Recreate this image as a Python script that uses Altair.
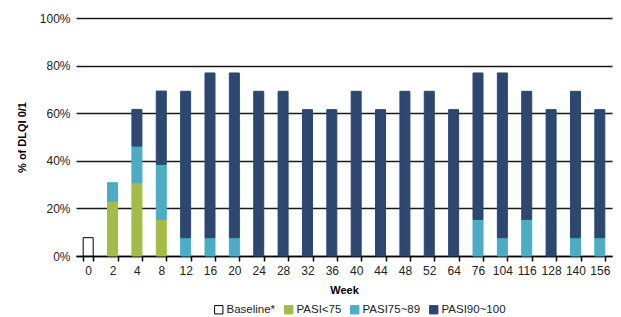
import altair as alt
import pandas as pd

weeks = ["0", "2", "4", "8", "12", "16", "20", "24", "28", "32", "36", "40",
         "44", "48", "52", "64", "76", "104", "116", "128", "140", "156"]
baseline = [7.7, 0, 0, 0, 0, 0, 0, 0, 0, 0, 0, 0, 0, 0, 0, 0, 0, 0, 0, 0, 0, 0]
pasi_lt75 = [0, 23.1, 30.8, 15.4, 0, 0, 0, 0, 0, 0, 0, 0, 0, 0, 0, 0, 0, 0, 0, 0, 0, 0]
pasi_75_89 = [0, 7.7, 15.4, 23.1, 7.7, 7.7, 7.7, 0, 0, 0, 0, 0, 0, 0, 0, 0, 15.4, 7.7, 15.4, 0, 7.7, 7.7]
pasi_90_100 = [0, 0, 15.4, 30.8, 61.5, 69.2, 69.2, 69.2, 69.2, 61.5, 61.5, 69.2,
               61.5, 69.2, 69.2, 61.5, 61.5, 69.2, 53.8, 61.5, 61.5, 53.8]

series = ["Baseline*", "PASI<75", "PASI75~89", "PASI90~100"]
fills = ["#ffffff", "#a2bd45", "#4bacc6", "#2c4770"]
strokes = ["#000000", "#a2bd45", "#4bacc6", "#2c4770"]

rows = []
for i, w in enumerate(weeks):
    for k, vals in enumerate([baseline, pasi_lt75, pasi_75_89, pasi_90_100]):
        if vals[i] > 0:
            rows.append({"week": w, "series": series[k], "order": k, "value": vals[i] / 100})
df = pd.DataFrame(rows)

chart = alt.Chart(df).mark_bar(size=10, strokeWidth=1).encode(
    x=alt.X("week:N", sort=weeks, title="Week",
            scale=alt.Scale(paddingInner=0.58, paddingOuter=0.29),
            axis=alt.Axis(labelAngle=0, tickBand="extent", grid=False, domainColor="#000000",
                          tickColor="#000000", domainWidth=1.5, tickWidth=1.5, tickSize=5,
                          labelFontSize=12, labelColor="#222222", labelPadding=4,
                          titleFontSize=11, titleFontWeight="bold", titlePadding=8)),
    y=alt.Y("value:Q", stack="zero", title="% of DLQI 0/1",
            scale=alt.Scale(domain=[0, 1], nice=False),
            axis=alt.Axis(format=".0%", values=[0, 0.2, 0.4, 0.6, 0.8, 1.0],
                          domain=False, ticks=False, gridColor="#1a1a1a", gridWidth=1.5,
                          labelFontSize=12, labelColor="#222222", labelPadding=6,
                          titleFontSize=11, titleFontWeight="bold", titlePadding=12)),
    color=alt.Color("series:N", scale=alt.Scale(domain=series, range=fills),
                    legend=alt.Legend(title=None, orient="none", direction="horizontal",
                                      legendX=137, legendY=286, symbolType="square",
                                      symbolSize=70, labelFontSize=11.5, labelColor="#222222",
                                      columnPadding=6, labelOffset=2, symbolStrokeWidth=1)),
    stroke=alt.Stroke("series:N", scale=alt.Scale(domain=series, range=strokes), legend=None),
    order=alt.Order("order:Q"),
).properties(
    width=536, height=238,
    autosize=alt.AutoSizeParams(type="none"),
    padding={"left": 68, "top": 10, "right": 1, "bottom": 61},
).configure(font="Liberation Sans").configure_view(stroke=None)

chart.save("out.html", embed_options={"renderer": "svg", "actions": False})
